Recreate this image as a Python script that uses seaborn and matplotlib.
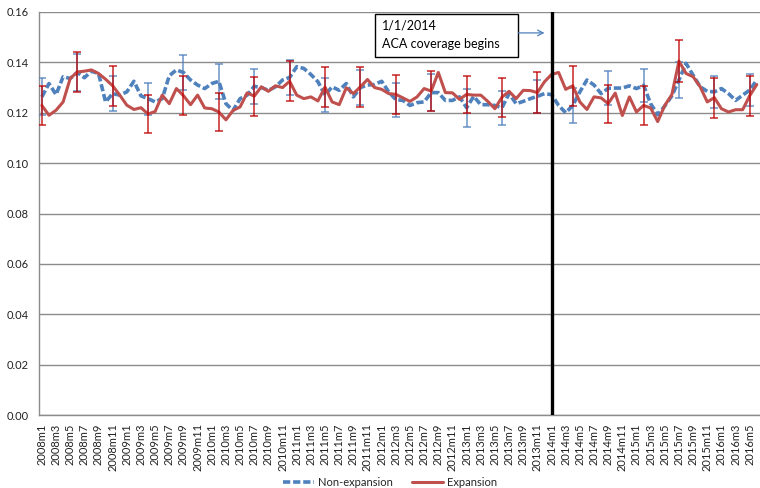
import matplotlib
matplotlib.use("Agg")
import matplotlib.pyplot as plt
from matplotlib.patches import Rectangle
import numpy as np
import pandas as pd
import seaborn as sns

# Monthly categories 2008m1 .. 2016m6
years = list(range(2008, 2017))
months = [f"{y}m{m}" for y in years for m in range(1, 13)][:102]

non_expansion = [
    0.1263, 0.1316, 0.1272, 0.1343, 0.1336, 0.1360, 0.1339, 0.1365, 0.1356, 0.1243,
    0.1276, 0.1270, 0.1283, 0.1325, 0.1267, 0.1256, 0.1243, 0.1256, 0.1347, 0.1370,
    0.1360, 0.1330, 0.1310, 0.1296, 0.1316, 0.1325, 0.1236, 0.1209, 0.1256, 0.1270,
    0.1305, 0.1300, 0.1289, 0.1303, 0.1330, 0.1340, 0.1383, 0.1376, 0.1352, 0.1323,
    0.1270, 0.1303, 0.1289, 0.1316, 0.1263, 0.1300, 0.1310, 0.1312, 0.1325, 0.1283,
    0.1252, 0.1249, 0.1229, 0.1240, 0.1243, 0.1280, 0.1280, 0.1249, 0.1249, 0.1263,
    0.1220, 0.1265, 0.1232, 0.1232, 0.1229, 0.1220, 0.1276, 0.1236, 0.1245, 0.1256,
    0.1265, 0.1276, 0.1272, 0.1229, 0.1200, 0.1229, 0.1283, 0.1330, 0.1310, 0.1276,
    0.1297, 0.1298, 0.1298, 0.1307, 0.1296, 0.1309, 0.1236, 0.1192, 0.1227, 0.1267,
    0.1330, 0.1396, 0.1349, 0.1303, 0.1285, 0.1283, 0.1296, 0.1276, 0.1249, 0.1270,
    0.1290, 0.1330,
]

expansion = [
    0.1229, 0.1190, 0.1210, 0.1243, 0.1336, 0.1362, 0.1365, 0.1370, 0.1356, 0.1333,
    0.1307, 0.1270, 0.1230, 0.1213, 0.1220, 0.1195, 0.1205, 0.1270, 0.1236, 0.1296,
    0.1268, 0.1232, 0.1270, 0.1219, 0.1216, 0.1203, 0.1172, 0.1209, 0.1223, 0.1279,
    0.1266, 0.1303, 0.1285, 0.1307, 0.1300, 0.1325, 0.1270, 0.1256, 0.1263, 0.1247,
    0.1302, 0.1243, 0.1232, 0.1299, 0.1276, 0.1303, 0.1332, 0.1300, 0.1293, 0.1276,
    0.1273, 0.1259, 0.1245, 0.1263, 0.1296, 0.1286, 0.1360, 0.1280, 0.1279, 0.1253,
    0.1273, 0.1270, 0.1270, 0.1245, 0.1216, 0.1262, 0.1285, 0.1256, 0.1289, 0.1288,
    0.1280, 0.1323, 0.1352, 0.1360, 0.1293, 0.1307, 0.1243, 0.1213, 0.1263, 0.1259,
    0.1236, 0.1278, 0.1189, 0.1263, 0.1203, 0.1229, 0.1219, 0.1165, 0.1229, 0.1272,
    0.1405, 0.1356, 0.1343, 0.1303, 0.1243, 0.1260, 0.1216, 0.1203, 0.1212, 0.1212,
    0.1268, 0.1312,
]

# 95% CI half-widths, reported every fifth month
ci_step = 5
non_expansion_ci = [0.0073, 0.0073, 0.0071, 0.0063, 0.0071, 0.0070, 0.0070, 0.0068,
                    0.0069, 0.0068, 0.0067, 0.0073, 0.0075, 0.0068, 0.0067, 0.0071,
                    0.0068, 0.0066, 0.0070, 0.0064, 0.0065]
expansion_ci = [0.0077, 0.0080, 0.0079, 0.0075, 0.0078, 0.0076, 0.0077, 0.0080,
                0.0078, 0.0080, 0.0077, 0.0079, 0.0074, 0.0077, 0.0080, 0.0080,
                0.0076, 0.0076, 0.0082, 0.0079, 0.0079]

aca_start = "2014m1"
y_ticks = [0.00, 0.02, 0.04, 0.06, 0.08, 0.10, 0.12, 0.14, 0.16]

BLUE = "#4F81BD"
RED = "#C0504D"
RED_BAR = "#C00000"
GRID = "#8C8C8C"

sns.set_style("white")
plt.rcParams["font.family"] = ["Lato", "DejaVu Sans"]

df = pd.DataFrame({
    "idx": np.arange(len(months)),
    "Non-expansion": non_expansion,
    "Expansion": expansion,
})

fig = plt.figure(figsize=(7.6, 4.88), dpi=100)
ax = fig.add_axes([38.7 / 760, 1 - 415 / 488, (760 - 38.7) / 760, (415 - 12) / 488])

ci_idx = df["idx"].values[::ci_step]

sns.lineplot(data=df, x="idx", y="Non-expansion", ax=ax, color=BLUE,
             linewidth=2.6, label="Non-expansion", zorder=3)
ax.lines[-1].set_dashes([2.0, 0.8])
ax.errorbar(ci_idx, np.array(non_expansion)[::ci_step], yerr=non_expansion_ci,
            fmt="none", ecolor=BLUE, elinewidth=1.1, capsize=3, capthick=1.1,
            alpha=0.85, zorder=4)

sns.lineplot(data=df, x="idx", y="Expansion", ax=ax, color=RED,
             linewidth=2.2, label="Expansion", zorder=5)
ax.errorbar(ci_idx, np.array(expansion)[::ci_step], yerr=expansion_ci,
            fmt="none", ecolor=RED_BAR, elinewidth=1.1, capsize=3, capthick=1.1,
            alpha=0.85, zorder=6)

# ACA start marker
aca_idx = months.index(aca_start)
ax.axvline(aca_idx, color="black", linewidth=2.4, zorder=7)

# Annotation box and arrow
ax.add_patch(Rectangle((47.1, 0.1421), 20.2, 0.0171, facecolor="white",
                       edgecolor="black", linewidth=1.0, zorder=8))
ax.text(48.1, 0.1548, "1/1/2014", fontsize=9, color="black", va="center", zorder=9)
ax.text(48.1, 0.1473, "ACA coverage begins", fontsize=9, color="black",
        va="center", zorder=9)
ax.annotate("", xy=(aca_idx - 0.6, 0.1517), xytext=(66.9, 0.1517),
            arrowprops=dict(arrowstyle="->", color=BLUE, lw=0.9), zorder=9)

ax.set_xlim(-0.45, len(months) - 1 + 0.45)
ax.set_ylim(0, 0.16)
ax.set_yticks(y_ticks)
ax.set_yticklabels([f"{v:.2f}" for v in y_ticks], fontsize=8, color="#222222")
ax.set_xticks(df["idx"].values)
ax.set_xticklabels([m if i % 2 == 0 else "" for i, m in enumerate(months)],
                   rotation=90, fontsize=8, color="#222222")
ax.tick_params(axis="x", length=4, width=0.8, color=GRID, pad=2)
ax.tick_params(axis="y", length=4, width=0.8, color=GRID, pad=3)
ax.set_xlabel("")
ax.set_ylabel("")

ax.yaxis.grid(True, color=GRID, linewidth=1.0)
ax.set_axisbelow(True)
for side in ("top", "right"):
    ax.spines[side].set_visible(False)
for side in ("left", "bottom"):
    ax.spines[side].set_color(GRID)
    ax.spines[side].set_linewidth(1.0)

handles, labels = ax.get_legend_handles_labels()
ax.get_legend().remove()
fig.legend(handles, labels, loc="center", bbox_to_anchor=(390 / 760, 1 - 482 / 488),
           ncol=2, frameon=False, fontsize=8, handlelength=2.8, columnspacing=1.8,
           handletextpad=0.3)

fig.savefig("out.png", dpi=100)
